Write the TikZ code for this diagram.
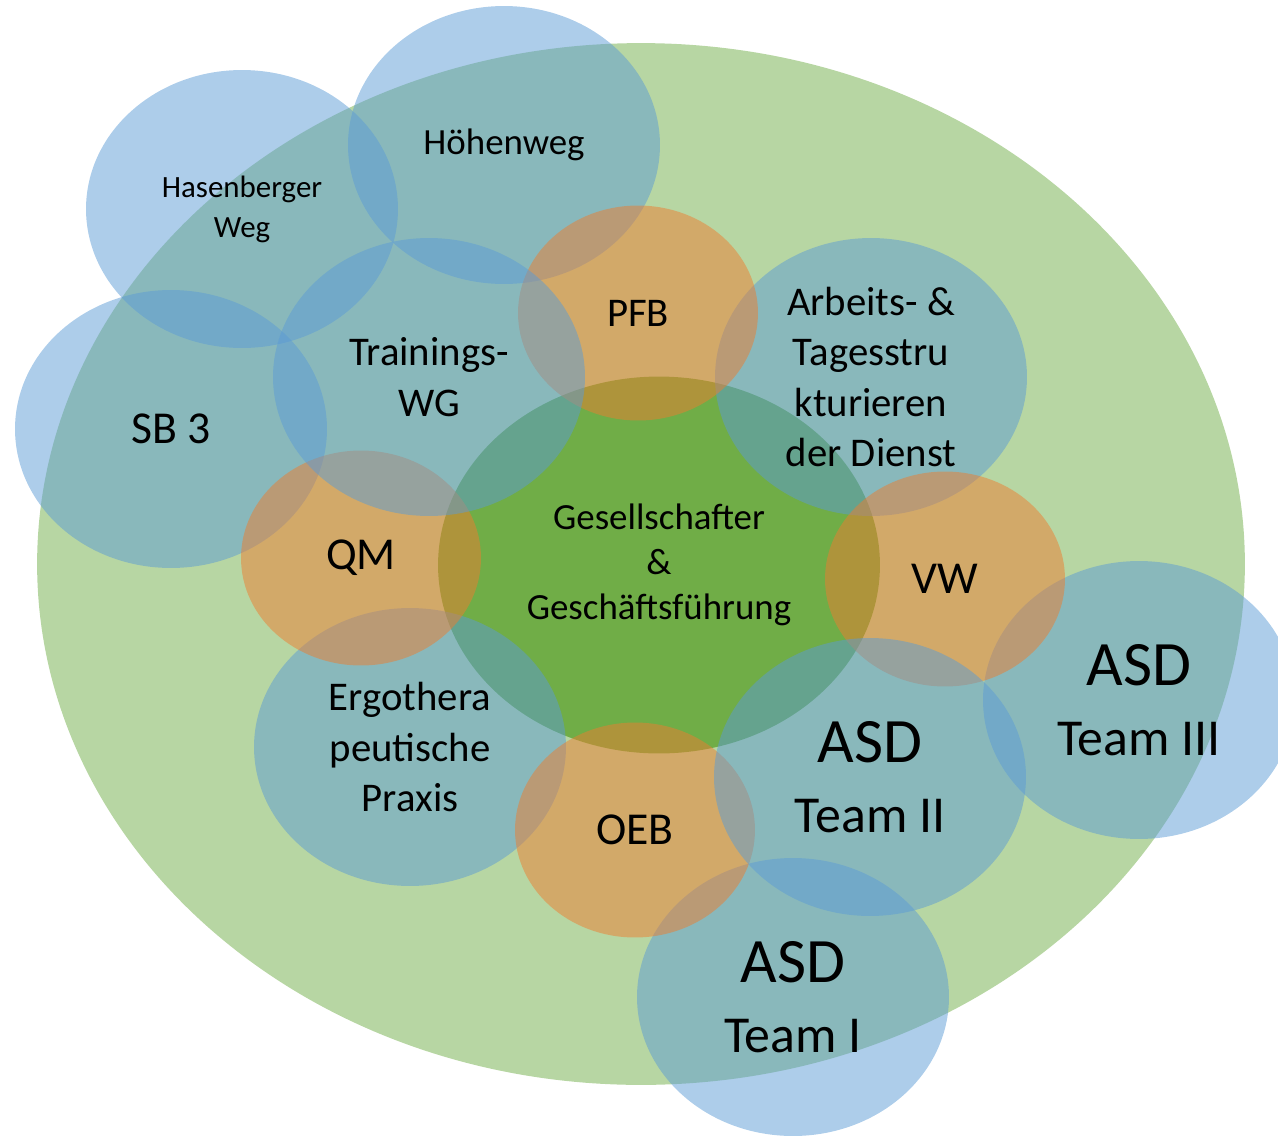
\documentclass[tikz,border=0pt]{standalone}
\usepackage{fontspec}
\setmainfont{Carlito}
\usetikzlibrary{shapes.geometric}
\definecolor{grn}{HTML}{70AD47}
\definecolor{blu}{HTML}{5B9BD5}
\definecolor{org}{HTML}{ED7D31}
\tikzset{
  blob/.style={ellipse, inner sep=0pt, align=center, text=black, text opacity=1},
  bluebox/.style={blob, fill=blu, fill opacity=0.5, minimum width=6.24cm, minimum height=5.56cm},
  orgbox/.style={blob, fill=org, fill opacity=0.5, minimum width=4.8cm, minimum height=4.3cm},
  small/.style={font=\fontsize{17.6pt}{22.7pt}\selectfont},
  mid/.style={font=\fontsize{21pt}{25.5pt}\selectfont},
  norm/.style={font=\fontsize{23.2pt}{28.6pt}\selectfont},
  big/.style={font=\fontsize{26pt}{31pt}\selectfont},
  team/.style={font=\fontsize{29.5pt}{40pt}\selectfont}
}
\newcommand{\asd}[1]{{\fontsize{36pt}{40pt}\selectfont ASD}\\#1}
\begin{document}
\begin{tikzpicture}[x=0.02cm,y=-0.02cm]
\useasboundingbox (0,0) rectangle (1278,1136);
\node[blob, fill=grn, fill opacity=0.5, minimum width=24.16cm, minimum height=20.84cm] (whole) at (641,564) {};
\node[blob, fill=grn, minimum width=8.84cm, minimum height=7.54cm, mid] (gf) at (659,565) {Gesellschafter\\\&\\Geschäftsführung};
\node[bluebox, mid] (hoehenweg) at (504,145) {Höhenweg};
\node[bluebox, small] (hasenberger) at (242,209) {Hasenberger\\Weg};
\node[bluebox, big] (sb3) at (171,429) {SB 3};
\node[bluebox, norm] (arbeit) at (871,377) {Arbeits- \&\\Tagesstru\\kturieren\\der Dienst};
\node[bluebox, norm] (ergo) at (410,747) {Ergothera\\peutische\\Praxis};
\node[bluebox, team] (asd3) at (1139,700) {\asd{Team III}};
\node[bluebox, team] (asd1) at (793,997) {\asd{Team I}};
\node[orgbox, norm] (pfb) at (638,313) {PFB};
\node[orgbox, big] (qm) at (361,558) {QM};
\node[orgbox, big] (vw) at (945,579) {VW};
\node[orgbox, big] (oeb) at (635,830) {OEB};
\node[bluebox, norm] (training) at (429,377) {Trainings-\\WG};
\node[bluebox, team] (asd2) at (870,777) {\asd{Team II}};
\end{tikzpicture}
\end{document}
